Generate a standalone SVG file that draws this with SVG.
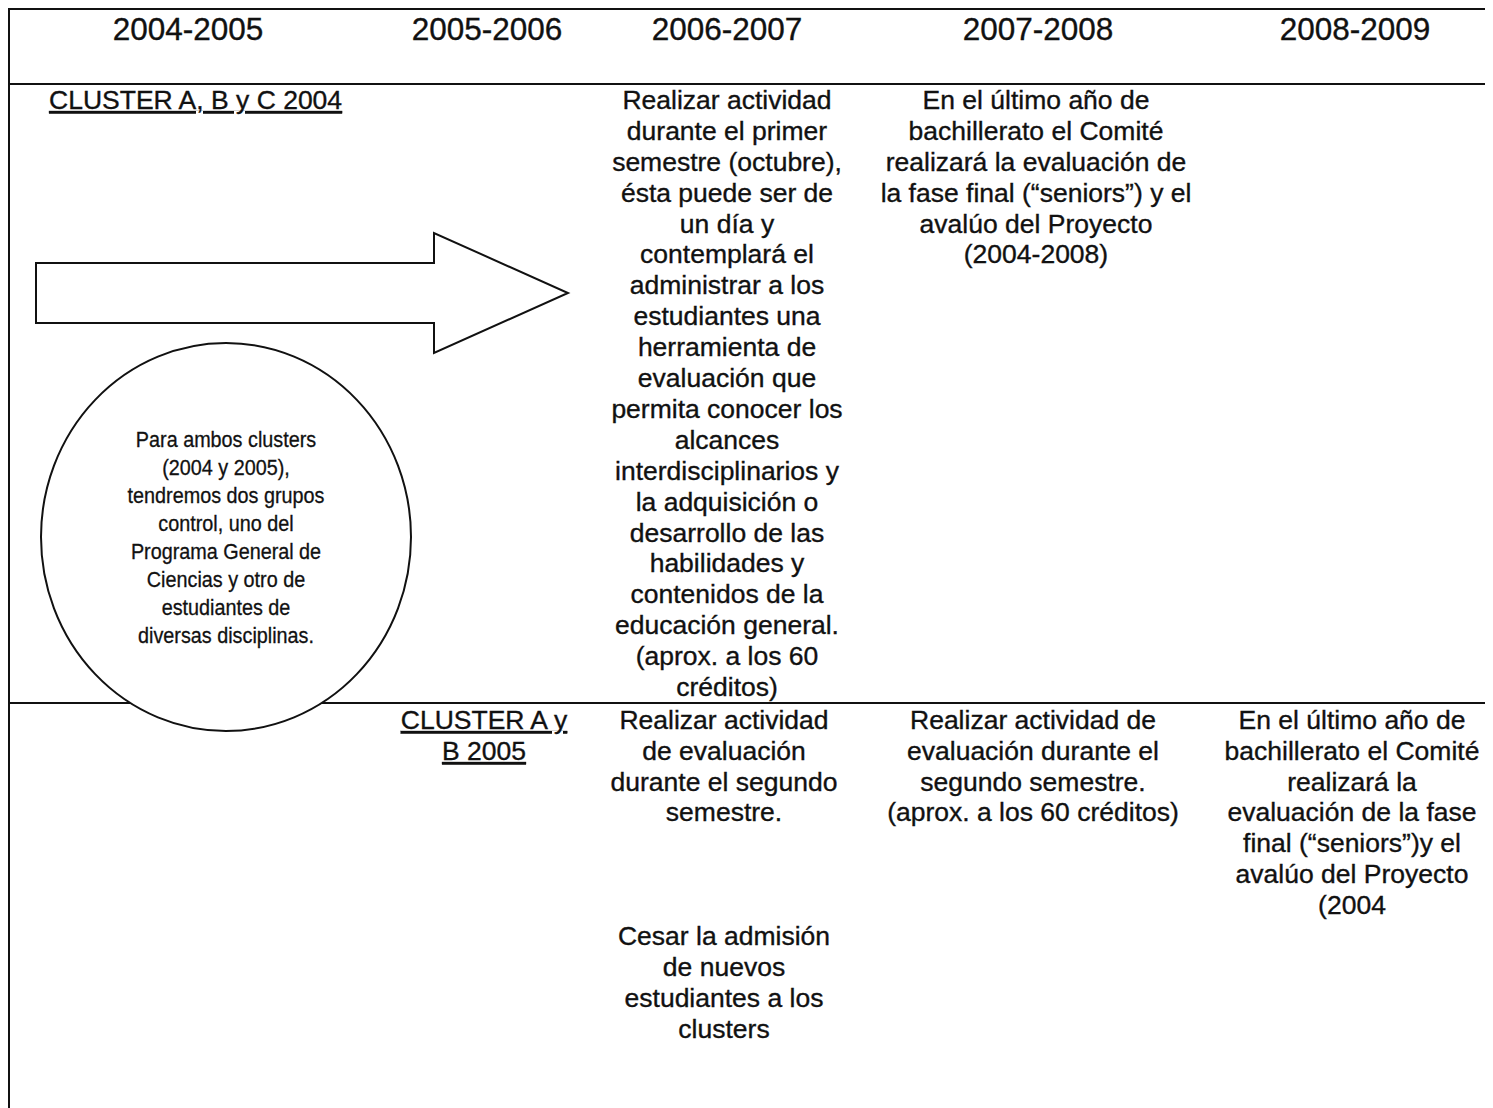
<svg xmlns="http://www.w3.org/2000/svg" width="1493" height="1108" viewBox="0 0 1493 1108">
<style>
.ln{stroke:#111;stroke-width:2;fill:none}
.shp{stroke:#111;stroke-width:2;fill:#fff}
text{font-family:"Liberation Sans",Arial,sans-serif;fill:#111;stroke:#111;stroke-width:0.35}
.hd{font-size:31.5px;text-anchor:middle}
.bd{font-size:26.5px;text-anchor:middle}
.lf{font-size:26.5px;text-anchor:start}
.ul{text-decoration:underline}
.sm{font-size:22px;text-anchor:middle;stroke-width:0.3}
</style>
<rect width="1493" height="1108" fill="#fff"/>
<g id="grid">
<line class="ln" x1="9" y1="9" x2="1485" y2="9"/>
<line class="ln" x1="9" y1="84" x2="1485" y2="84"/>
<line class="ln" x1="9" y1="703" x2="1485" y2="703"/>
<line class="ln" x1="9" y1="8" x2="9" y2="1108"/>
</g>
<g id="headers">
<text class="hd" x="188" y="40">2004-2005</text>
<text class="hd" x="487" y="40">2005-2006</text>
<text class="hd" x="727" y="40">2006-2007</text>
<text class="hd" x="1038" y="40">2007-2008</text>
<text class="hd" x="1355" y="40">2008-2009</text>
</g>
<g id="connectors">
<polygon id="arrow" class="shp" points="36,263 434,263 434,233 568,293 434,353 434,323 36,323"/>
</g>
<g id="circle-node">
<ellipse class="shp" cx="226" cy="537" rx="185" ry="194"/>
<g transform="translate(226,0) scale(0.9,1)">
<text class="sm" x="0" y="447">Para ambos clusters</text>
<text class="sm" x="0" y="475">(2004 y 2005),</text>
<text class="sm" x="0" y="503">tendremos dos grupos</text>
<text class="sm" x="0" y="531">control, uno del</text>
<text class="sm" x="0" y="559">Programa General de</text>
<text class="sm" x="0" y="587">Ciencias y otro de</text>
<text class="sm" x="0" y="615">estudiantes de</text>
<text class="sm" x="0" y="643">diversas disciplinas.</text>
</g>
</g>
<g id="cluster2004">
<text class="lf ul" x="49" y="109">CLUSTER A, B y C 2004</text>
</g>
<g id="r1c3">
<text class="bd" x="727" y="109">Realizar actividad</text>
<text class="bd" x="727" y="140">durante el primer</text>
<text class="bd" x="727" y="171">semestre (octubre),</text>
<text class="bd" x="727" y="202">ésta puede ser de</text>
<text class="bd" x="727" y="233">un día y</text>
<text class="bd" x="727" y="263">contemplará el</text>
<text class="bd" x="727" y="294">administrar a los</text>
<text class="bd" x="727" y="325">estudiantes una</text>
<text class="bd" x="727" y="356">herramienta de</text>
<text class="bd" x="727" y="387">evaluación que</text>
<text class="bd" x="727" y="418">permita conocer los</text>
<text class="bd" x="727" y="449">alcances</text>
<text class="bd" x="727" y="480">interdisciplinarios y</text>
<text class="bd" x="727" y="511">la adquisición o</text>
<text class="bd" x="727" y="542">desarrollo de las</text>
<text class="bd" x="727" y="572">habilidades y</text>
<text class="bd" x="727" y="603">contenidos de la</text>
<text class="bd" x="727" y="634">educación general.</text>
<text class="bd" x="727" y="665">(aprox. a los 60</text>
<text class="bd" x="727" y="696">créditos)</text>
</g>
<g id="r1c4">
<text class="bd" x="1036" y="109">En el último año de</text>
<text class="bd" x="1036" y="140">bachillerato el Comité</text>
<text class="bd" x="1036" y="171">realizará la evaluación de</text>
<text class="bd" x="1036" y="202">la fase final (“seniors”) y el</text>
<text class="bd" x="1036" y="233">avalúo del Proyecto</text>
<text class="bd" x="1036" y="263">(2004-2008)</text>
</g>
<g id="cluster2005">
<text class="bd ul" x="484" y="729">CLUSTER A y</text>
<text class="bd ul" x="484" y="760">B 2005</text>
</g>
<g id="r2c3">
<text class="bd" x="724" y="729">Realizar actividad</text>
<text class="bd" x="724" y="760">de evaluación</text>
<text class="bd" x="724" y="791">durante el segundo</text>
<text class="bd" x="724" y="821">semestre.</text>
</g>
<g id="r2c3b">
<text class="bd" x="724" y="945">Cesar la admisión</text>
<text class="bd" x="724" y="976">de nuevos</text>
<text class="bd" x="724" y="1007">estudiantes a los</text>
<text class="bd" x="724" y="1038">clusters</text>
</g>
<g id="r2c4">
<text class="bd" x="1033" y="729">Realizar actividad de</text>
<text class="bd" x="1033" y="760">evaluación durante el</text>
<text class="bd" x="1033" y="791">segundo semestre.</text>
<text class="bd" x="1033" y="821">(aprox. a los 60 créditos)</text>
</g>
<g id="r2c5">
<text class="bd" x="1352" y="729">En el último año de</text>
<text class="bd" x="1352" y="760">bachillerato el Comité</text>
<text class="bd" x="1352" y="791">realizará la</text>
<text class="bd" x="1352" y="821">evaluación de la fase</text>
<text class="bd" x="1352" y="852">final (“seniors”)y el</text>
<text class="bd" x="1352" y="883">avalúo del Proyecto</text>
<text class="bd" x="1352" y="914">(2004</text>
</g>
</svg>
